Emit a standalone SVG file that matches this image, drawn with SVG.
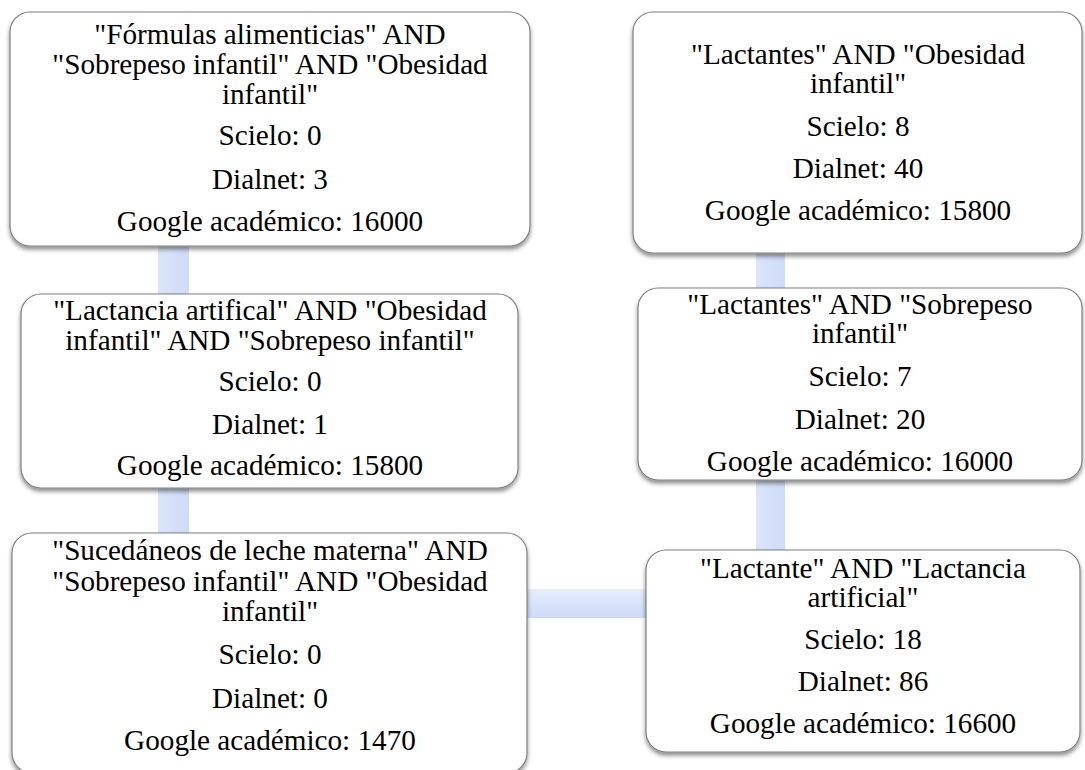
<svg xmlns="http://www.w3.org/2000/svg" width="1085" height="770" viewBox="0 0 1085 770">
<defs>
<filter id="sh" x="-5%" y="-5%" width="110%" height="115%">
<feDropShadow dx="0" dy="3" stdDeviation="2.2" flood-color="#000" flood-opacity="0.45"/>
</filter>
<linearGradient id="gv" x1="0" y1="0" x2="1" y2="0">
<stop offset="0" stop-color="#dbe6fb"/>
<stop offset="1" stop-color="#cfdcf8"/>
</linearGradient>
<linearGradient id="gh" x1="0" y1="0" x2="0" y2="1">
<stop offset="0" stop-color="#e6eefd"/>
<stop offset="1" stop-color="#cddbf8"/>
</linearGradient>
</defs>
<style>
.box{fill:#ffffff;stroke:#808080;stroke-width:1.2;filter:url(#sh)}
.t{font-family:'Liberation Serif','Times New Roman',serif;font-size:29.2px;fill:#000;text-anchor:middle}
</style>
<rect width="1085" height="770" fill="#ffffff"/>
<g id="connectors">
<rect x="158" y="240" width="31" height="300" fill="url(#gv)"/>
<rect x="756" y="245" width="29" height="310" fill="url(#gv)"/>
<rect x="520" y="589" width="132" height="29" fill="url(#gh)"/>
</g>
<g class="t">
<g id="node1">
<rect class="box" x="10" y="12" width="520" height="234" rx="20"/>
<text x="270" y="44">"Fórmulas alimenticias" AND</text>
<text x="270" y="74">"Sobrepeso infantil" AND "Obesidad</text>
<text x="270" y="104">infantil"</text>
<text x="270" y="145">Scielo: 0</text>
<text x="270" y="189">Dialnet: 3</text>
<text x="270" y="231">Google académico: 16000</text>
</g>
<g id="node2">
<rect class="box" x="21" y="294" width="497" height="194" rx="20"/>
<text x="270" y="320">"Lactancia artifical" AND "Obesidad</text>
<text x="270" y="350">infantil" AND "Sobrepeso infantil"</text>
<text x="270" y="391">Scielo: 0</text>
<text x="270" y="434">Dialnet: 1</text>
<text x="270" y="475">Google académico: 15800</text>
</g>
<g id="node3">
<rect class="box" x="12" y="533" width="515" height="240" rx="20"/>
<text x="270" y="560">"Sucedáneos de leche materna" AND</text>
<text x="270" y="591">"Sobrepeso infantil" AND "Obesidad</text>
<text x="270" y="621">infantil"</text>
<text x="270" y="664">Scielo: 0</text>
<text x="270" y="708">Dialnet: 0</text>
<text x="270" y="750">Google académico: 1470</text>
</g>
<g id="node4">
<rect class="box" x="633" y="12" width="449" height="241" rx="20"/>
<text x="858" y="64">"Lactantes" AND "Obesidad</text>
<text x="858" y="93">infantil"</text>
<text x="858" y="136">Scielo: 8</text>
<text x="858" y="178">Dialnet: 40</text>
<text x="858" y="220">Google académico: 15800</text>
</g>
<g id="node5">
<rect class="box" x="638" y="288" width="444" height="192" rx="20"/>
<text x="860" y="314">"Lactantes" AND "Sobrepeso</text>
<text x="860" y="343">infantil"</text>
<text x="860" y="386">Scielo: 7</text>
<text x="860" y="429">Dialnet: 20</text>
<text x="860" y="471">Google académico: 16000</text>
</g>
<g id="node6">
<rect class="box" x="646" y="550" width="434" height="202" rx="20"/>
<text x="863" y="578">"Lactante" AND "Lactancia</text>
<text x="863" y="607">artificial"</text>
<text x="863" y="649">Scielo: 18</text>
<text x="863" y="691">Dialnet: 86</text>
<text x="863" y="733">Google académico: 16600</text>
</g>
</g>
</svg>
